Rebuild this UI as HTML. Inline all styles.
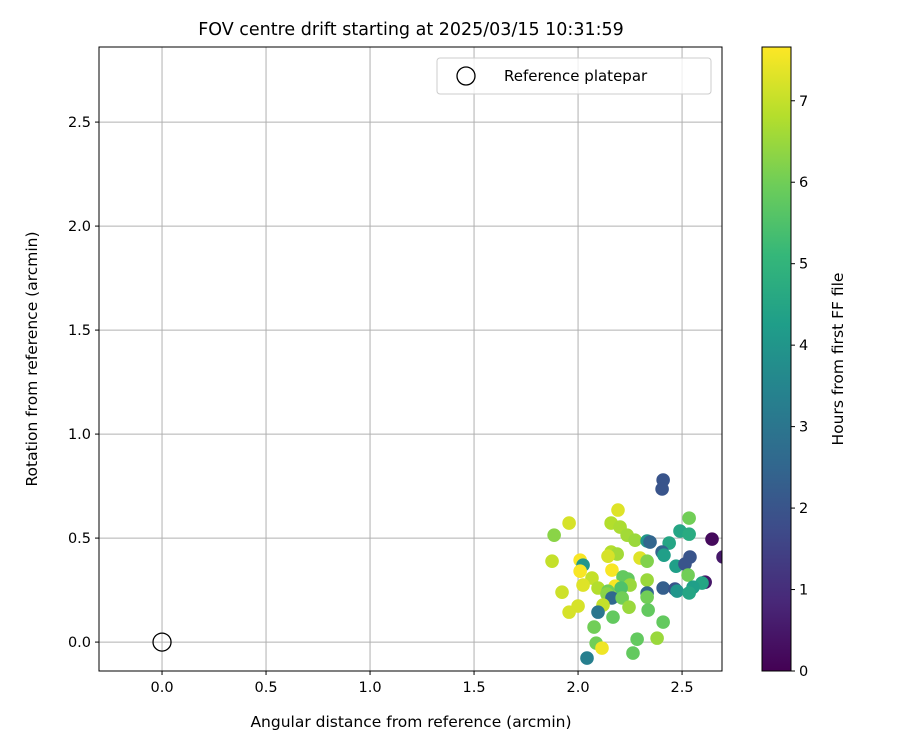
<!DOCTYPE html>
<html><head><meta charset="utf-8"><style>
body{margin:0;background:#fff;font-family:"DejaVu Sans","Liberation Sans",sans-serif}
</style></head><body>
<svg id="c" width="900" height="750" xmlns="http://www.w3.org/2000/svg" font-family="DejaVu Sans, Liberation Sans, sans-serif"></svg>
<script>
const xVals=[2.409,2.404,2.192,2.534,1.957,2.159,2.202,2.490,2.534,1.885,2.236,2.644,2.274,2.332,2.346,2.438,2.404,2.413,2.538,2.697,2.159,2.188,2.144,1.875,2.010,2.298,2.332,2.024,2.471,2.514,2.010,2.163,2.529,2.067,2.216,2.240,2.332,2.611,2.596,2.024,2.178,2.250,2.096,2.144,2.207,2.409,2.466,2.476,2.553,2.534,2.332,2.332,1.923,2.139,2.163,2.212,2.120,2.000,1.957,2.245,2.096,2.337,2.168,2.409,2.077,2.087,2.284,2.380,2.115,2.264,2.043];
const yVals=[0.779,0.736,0.635,0.596,0.572,0.572,0.553,0.534,0.519,0.514,0.514,0.495,0.490,0.486,0.481,0.476,0.433,0.418,0.409,0.409,0.433,0.423,0.413,0.389,0.394,0.404,0.389,0.370,0.365,0.375,0.341,0.346,0.322,0.308,0.313,0.303,0.298,0.288,0.284,0.274,0.269,0.274,0.260,0.245,0.260,0.260,0.255,0.245,0.264,0.236,0.236,0.216,0.240,0.231,0.212,0.212,0.178,0.173,0.144,0.168,0.144,0.154,0.120,0.096,0.072,-0.005,0.014,0.019,-0.029,-0.053,-0.077];
const hours=[2,2,7.3,6,7.2,6.8,6.7,4.5,4.7,6.3,6.6,0.2,6.5,4,2.5,4.5,2.5,4.3,2,0.5,6.8,6.6,7.2,7.0,7.6,7.3,6.2,4,4.3,2,7.6,7.6,6,7,5.8,5.8,6.5,0.5,4.5,7.3,7.6,6.5,6.8,6,5.5,2.3,2,4,4.3,4.5,2.5,6,7.1,6.3,2.6,6,7,7.2,7.2,6.5,3,5.8,5.8,5.8,6,6,5.8,6.5,7.5,5.8,3.3];
const xTicks=[0.0,0.5,1.0,1.5,2.0,2.5];
const yTicks=[0.0,0.5,1.0,1.5,2.0,2.5];
const cTicks=[0,1,2,3,4,5,6,7];
const X0=99,X1=722,Y0=47,Y1=671,xmin=-0.303,xmax=2.692,ymin=-0.139,ymax=2.861;
const cmin=0,cmax=7.66,CB0=762,CB1=791;
const sx=v=>X0+(v-xmin)/(xmax-xmin)*(X1-X0);
const sy=v=>Y1-(v-ymin)/(ymax-ymin)*(Y1-Y0);
const sc=v=>Y1-(v-cmin)/(cmax-cmin)*(Y1-Y0);
const vir=[[68,1,84],[72,40,120],[62,74,137],[49,104,142],[38,130,142],[31,158,137],[53,183,121],[109,205,89],[180,222,44],[253,231,37]];
function cmap(t){t=Math.max(0,Math.min(1,t))*(vir.length-1);const i=Math.min(Math.floor(t),vir.length-2),f=t-i;const a=vir[i],b=vir[i+1];return `rgb(${a.map((v,k)=>Math.round(v+(b[k]-v)*f)).join(',')})`;}
const svg=document.getElementById('c');const NS='http://www.w3.org/2000/svg';
function mk(t,at,p){const e=document.createElementNS(NS,t);for(const k in at)e.setAttribute(k,at[k]);(p||svg).appendChild(e);return e;}
let e;
e=mk('text',{x:411,y:35,'text-anchor':'middle','font-size':'17.5'});e.textContent='FOV centre drift starting at 2025/03/15 10:31:59';


const clip=mk('clipPath',{id:'cl'});mk('rect',{x:X0,y:Y0,width:X1-X0,height:Y1-Y0},clip);
const grid=mk('g',{});


xTicks.forEach(t=>{const x=sx(t);mk('line',{x1:x,x2:x,y1:Y0,y2:Y1,stroke:'#b0b0b0','stroke-width':1},grid);mk('line',{x1:x,x2:x,y1:Y1,y2:Y1+4,stroke:'#000'});
 const l=mk('text',{x:x,y:Y1+21,'text-anchor':'middle','font-size':'14.5'});l.textContent=t.toFixed(1);
 
 });
yTicks.forEach(t=>{const y=sy(t);mk('line',{x1:X0,x2:X1,y1:y,y2:y,stroke:'#b0b0b0','stroke-width':1},grid);mk('line',{x1:X0-4,x2:X0,y1:y,y2:y,stroke:'#000'});
 const l=mk('text',{x:X0-8,y:y+5,'text-anchor':'end','font-size':'14.5'});l.textContent=t.toFixed(1);
 
 });
const pts=mk('g',{'clip-path':'url(#cl)'});


xVals.forEach((v,i)=>{const c=mk('circle',{cx:sx(v),cy:sy(yVals[i]),r:6.8,fill:cmap((hours[i]-cmin)/(cmax-cmin))},pts);
 
 });
e=mk('circle',{cx:sx(0),cy:sy(0),r:9,fill:'none',stroke:'#000','stroke-width':1.3});


e=mk('rect',{x:X0,y:Y0,width:X1-X0,height:Y1-Y0,fill:'none',stroke:'#000','stroke-width':1});


e=mk('text',{x:411,y:727,'text-anchor':'middle','font-size':'15.5'});e.textContent='Angular distance from reference (arcmin)';


e=mk('text',{x:37,y:359,'text-anchor':'middle','font-size':'15.5',transform:'rotate(-90 37 359)'});e.textContent='Rotation from reference (arcmin)';


const lg=mk('g',{});


mk('rect',{x:437,y:58,width:274,height:36,rx:3,fill:'#fff','fill-opacity':0.8,stroke:'#ccc'},lg);
mk('circle',{cx:466,cy:76,r:9,fill:'none',stroke:'#000','stroke-width':1.3},lg);
e=mk('text',{x:504,y:81,'font-size':'15'},lg);e.textContent='Reference platepar';


const grad=mk('linearGradient',{id:'vg',x1:0,y1:1,x2:0,y2:0});
vir.forEach((c,i)=>mk('stop',{offset:i/(vir.length-1),'stop-color':`rgb(${c.join(',')})`},grad));
e=mk('rect',{x:CB0,y:Y0,width:CB1-CB0,height:Y1-Y0,fill:'url(#vg)',stroke:'#000','stroke-width':1});


cTicks.forEach(t=>{const y=sc(t);mk('line',{x1:CB1,x2:CB1+4,y1:y,y2:y,stroke:'#000'});
 const l=mk('text',{x:CB1+8,y:y+5,'font-size':'14.5'});l.textContent=t;
 
 });
e=mk('text',{x:843,y:359,'text-anchor':'middle','font-size':'15.5',transform:'rotate(-90 843 359)'});e.textContent='Hours from first FF file';


</script>
</body></html>
